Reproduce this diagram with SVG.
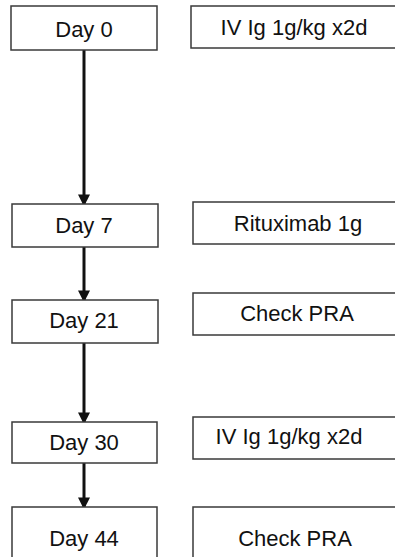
<svg xmlns="http://www.w3.org/2000/svg" width="395" height="557" viewBox="0 0 395 557">
<style>
.box{fill:#ffffff;stroke:#3a3a3a;stroke-width:1.5}
.t{font-family:"Liberation Sans",Arial,sans-serif;font-size:22px;fill:#111;text-anchor:middle}
.c{stroke:#111;stroke-width:3;fill:none}
</style>
<defs>
<marker id="ah" markerWidth="4" markerHeight="4" refX="3.2" refY="2" orient="auto" markerUnits="strokeWidth">
<path d="M0,0 L4,2 L0,4 z" fill="#111"/>
</marker>
</defs>
<rect width="395" height="557" fill="#ffffff"/>
<g id="connectors">
<line class="c" x1="84" y1="50" x2="84" y2="204" marker-end="url(#ah)"/>
<line class="c" x1="84" y1="247" x2="84" y2="300" marker-end="url(#ah)"/>
<line class="c" x1="84" y1="343" x2="84" y2="422" marker-end="url(#ah)"/>
<line class="c" x1="84" y1="463" x2="84" y2="507" marker-end="url(#ah)"/>
</g>
<g id="day0"><rect class="box" x="11" y="6" width="146" height="44"/><text class="t" x="84" y="37">Day 0</text></g>
<g id="ivig1"><rect class="box" x="191" y="6" width="210" height="42"/><text class="t" x="294" y="35">IV Ig 1g/kg x2d</text></g>
<g id="day7"><rect class="box" x="12" y="204" width="146" height="43"/><text class="t" x="84" y="233">Day 7</text></g>
<g id="rituximab"><rect class="box" x="193" y="202" width="210" height="42"/><text class="t" x="298" y="231">Rituximab 1g</text></g>
<g id="day21"><rect class="box" x="12" y="300" width="146" height="43"/><text class="t" x="84" y="328">Day 21</text></g>
<g id="checkpra1"><rect class="box" x="193" y="293" width="210" height="42"/><text class="t" x="297" y="321">Check PRA</text></g>
<g id="day30"><rect class="box" x="12" y="422" width="145" height="41"/><text class="t" x="84" y="450">Day 30</text></g>
<g id="ivig2"><rect class="box" x="193" y="417" width="210" height="42"/><text class="t" x="289" y="444">IV Ig 1g/kg x2d</text></g>
<g id="day44"><rect class="box" x="12" y="507" width="145" height="60"/><text class="t" x="84" y="546">Day 44</text></g>
<g id="checkpra2"><rect class="box" x="193" y="507" width="210" height="60"/><text class="t" x="295" y="546">Check PRA</text></g>
</svg>
